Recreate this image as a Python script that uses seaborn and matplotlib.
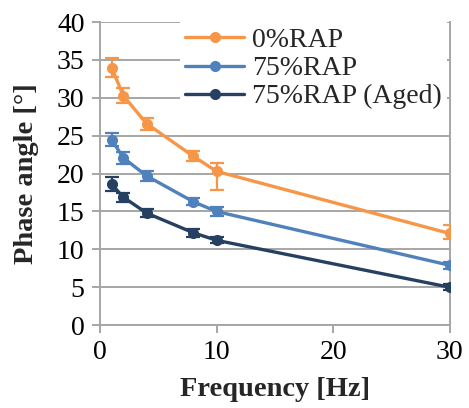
import numpy as np
import pandas as pd
import seaborn as sns
import matplotlib.pyplot as plt

freq = [1, 2, 4, 8, 10, 30]
series_names = ["0%RAP", "75%RAP", "75%RAP (Aged)"]
rap0 = [34.0, 30.3, 26.6, 22.3, 20.3, 12.1]
rap75 = [24.5, 22.1, 19.7, 16.3, 15.0, 7.9]
rap75_aged = [18.6, 16.9, 14.8, 12.2, 11.2, 5.0]

# error bar sizes (lower, upper)
rap0_err_lo = [1.3, 1.0, 0.8, 0.7, 2.5, 0.7]
rap0_err_hi = [1.3, 1.0, 0.8, 0.7, 1.1, 1.1]
rap75_err = [0.9, 0.8, 0.7, 0.5, 0.6, 0.5]
rap75_aged_err = [0.9, 0.6, 0.5, 0.5, 0.4, 0.4]

colors = ["#F79646", "#4F81BD", "#254061"]

rows = []
for name, vals in zip(series_names, [rap0, rap75, rap75_aged]):
    for f, v in zip(freq, vals):
        rows.append({"freq": f, "angle": v, "mix": name})
df = pd.DataFrame(rows)

sns.set_style("white")
plt.rcParams["font.family"] = ["Liberation Serif", "DejaVu Serif"]

fig = plt.figure(figsize=(4.69, 4.08), dpi=100)
ax = fig.add_axes([0.213, 0.203, 0.746, 0.743])

ax.yaxis.grid(True, color="#A6A6A6", linewidth=1.4, zorder=0)
ax.set_axisbelow(True)

sns.lineplot(data=df, x="freq", y="angle", hue="mix", palette=colors,
             marker="o", markersize=8, markeredgewidth=0, linewidth=2.4,
             ax=ax, zorder=3)

errs = [(rap0_err_lo, rap0_err_hi), (rap75_err, rap75_err),
        (rap75_aged_err, rap75_aged_err)]
for vals, (lo, hi), c in zip([rap0, rap75, rap75_aged], errs, colors):
    ax.errorbar(freq, vals, yerr=[lo, hi], fmt="none", ecolor=c,
                elinewidth=1.6, capsize=5, capthick=1.6, zorder=3)

ax.set_xlim(0, 30)
ax.set_ylim(0, 40)
ax.set_xticks([0, 10, 20, 30])
ax.set_yticks(range(0, 41, 5))

for s in ax.spines.values():
    s.set_color("#A6A6A6")
    s.set_linewidth(1.4)
ax.spines["top"].set_visible(False)

ax.tick_params(axis="both", labelsize=20, colors="black", length=6,
               width=1.4, direction="out", color="#A6A6A6", left=True,
               bottom=True, pad=5)

ax.set_xlabel("Frequency [Hz]", fontsize=20.5, fontweight="bold", labelpad=8)
ax.set_ylabel("Phase angle [°]", fontsize=20.5, fontweight="bold", labelpad=13)

leg = ax.legend(loc="upper right", bbox_to_anchor=(0.993, 1.0), fontsize=20,
                frameon=True, fancybox=False, framealpha=1,
                edgecolor="white", handlelength=2.1, handletextpad=0.3,
                labelspacing=0.1, borderpad=0.2, borderaxespad=0.0)
leg.get_frame().set_linewidth(0)

fig.savefig("out.png", dpi=100)
